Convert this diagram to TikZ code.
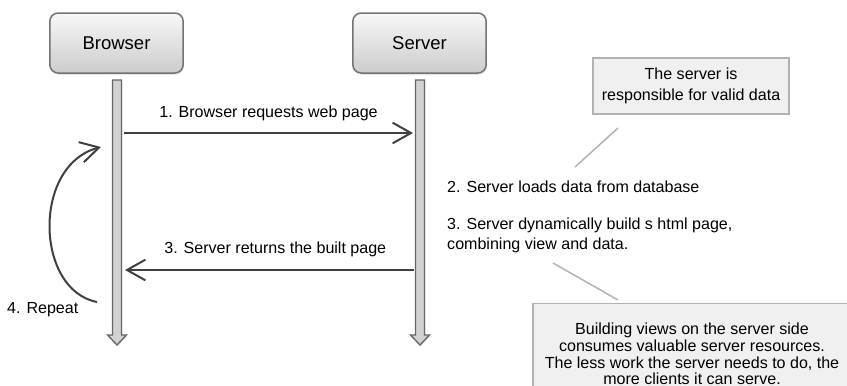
\documentclass[tikz,border=0pt]{standalone}
\usepackage{fontspec}
\setmainfont{Liberation Sans}
\usetikzlibrary{arrows.meta,positioning,shadows}

% vertical lifeline with a hollow arrow head, #1 = x position
\newcommand{\lifeline}[1]{%
  \draw[lifeline] (#1-4.5,80) -- (#1+4.5,80) -- (#1+4.5,335) -- (#1+9.5,335)
    -- (#1,345) -- (#1-9.5,335) -- (#1-4.5,335) -- cycle;
}

\begin{document}
\begin{tikzpicture}[
    x=0.03cm, y=-0.03cm,
    actor/.style={draw=black!55, line width=0.045cm, rounded corners=0.25cm,
      top color=black!3, bottom color=black!20, minimum width=4cm, minimum height=1.8cm,
      font=\fontsize{15.8}{19}\selectfont,
      drop shadow={opacity=0.18, shadow xshift=0.02cm, shadow yshift=-0.06cm}},
    lifeline/.style={draw=black!60, fill=black!18, line width=0.04cm,
      drop shadow={opacity=0.12, shadow xshift=0.03cm, shadow yshift=-0.05cm}},
    msg/.style={-{Straight Barb[length=0.55cm,width=0.62cm]}, line width=0.06cm, draw=black!75},
    msgtext/.style={font=\fontsize{13.7}{17}\selectfont, inner sep=0pt},
    notebox/.style={draw=black!30, fill=black!6, line width=0.04cm, align=center, inner sep=0pt},
    pointer/.style={draw=black!30, line width=0.045cm}
]
\clip (0,0) rectangle (847,385);

% Actors
\node[actor] (browser) at (116.5,43) {Browser};
\node[actor] (server) at (419.5,43) {Server};

% Lifelines
\lifeline{117}
\lifeline{420}

% Message ends on the lifelines
\coordinate (b1) at (124,133);
\coordinate (s1) at (413,133);
\coordinate (s3) at (414,270);
\coordinate (b3) at (125,270);

% 1. request
\draw[msg] (b1) -- node[msgtext, above=0.33cm] {1. Browser requests web page} (s1);

% 3. response
\draw[msg] (s3) -- node[msgtext, pos=0.48, above=0.36cm] {3. Server returns the built page} (b3);

% 4. loop back
\coordinate (rstart) at (97,302);
\coordinate (rend) at (101,147);
\draw[msg] (rstart) .. controls (35,290) and (32,165) .. (rend);
\node[msgtext, anchor=west] (repeat) at (7,310) {4. Repeat};

% Server side steps
\node[msgtext, anchor=west] (loads) at (447,187) {2. Server loads data from database};
\node[msgtext, anchor=west, align=left] (builds) at (447,235)
  {3. Server dynamically build s html page,\\combining view and data.};

% Notes
\node[notebox, minimum width=5.88cm, minimum height=1.68cm,
  font=\fontsize{13.7}{18}\selectfont] (valid) at (691,86)
  {The server is\\responsible for valid data};
\coordinate (v1) at (618,128);
\coordinate (v2) at (575,167);
\draw[pointer] (v1) -- (v2);

\node[notebox, minimum width=9.54cm, minimum height=3.02cm,
  font=\fontsize{13.7}{14.1}\selectfont] (cost) at (692,354)
  {Building views on the server side\\consumes valuable server resources.\\The less work the server needs to do, the\\more clients it can serve.};
\coordinate (w1) at (553,263);
\coordinate (w2) at (618,300);
\draw[pointer] (w1) -- (w2);

\end{tikzpicture}
\end{document}
